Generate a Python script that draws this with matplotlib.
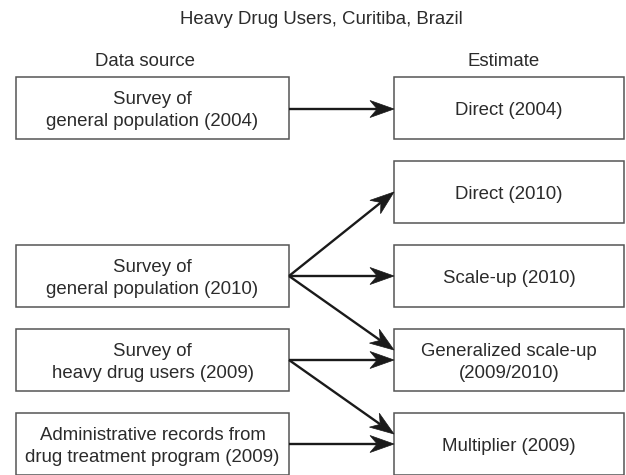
import matplotlib
matplotlib.use("Agg")
import numpy as np
import matplotlib.pyplot as plt
from matplotlib.patches import Rectangle, Polygon

title = "Heavy Drug Users, Curitiba, Brazil"
col_headers = ["Data source", "Estimate"]
sources = [
    "Survey of\ngeneral population (2004)",
    "Survey of\ngeneral population (2010)",
    "Survey of\nheavy drug users (2009)",
    "Administrative records from\ndrug treatment program (2009)",
]
estimates = [
    "Direct (2004)",
    "Direct (2010)",
    "Scale-up (2010)",
    "Generalized scale-up\n(2009/2010)",
    "Multiplier (2009)",
]
# (source index, estimate index)
links = [(0, 0), (1, 1), (1, 2), (1, 3), (2, 3), (2, 4), (3, 4)]

# ---- layout (pixel units, y downward) ----
W, H = 626, 475
src_x = (16, 289)
est_x = (394, 624)
src_y = [77, 245, 329, 413]
est_y = [77, 161, 245, 329, 413]
box_h = 62
link_start_y = [109, 276, 276, 276, 360, 360, 444]
link_end_y = [109, 192, 276, 350, 360, 434, 444]

FS = 13.4
TXT = "#2b2b2b"
plt.rcParams['font.family'] = ['Liberation Sans', 'DejaVu Sans']

fig = plt.figure(figsize=(W / 100, H / 100), dpi=100)
ax = fig.add_axes([0, 0, 1, 1])
ax.set_xlim(0, W)
ax.set_ylim(H, 0)
ax.axis("off")

ax.text(W / 2 + 8, 19, title, ha="center", va="center", fontsize=FS, color=TXT)
ax.text(145, 62, col_headers[0], ha="center", va="center", fontsize=FS, color=TXT)
ax.text(503.5, 61, col_headers[1], ha="center", va="center", fontsize=FS, color=TXT)

def box(x0, x1, y0, label):
    ax.add_patch(Rectangle((x0, y0), x1 - x0, box_h, fill=False,
                           edgecolor="#555555", linewidth=1.1))
    ax.text((x0 + x1) / 2, y0 + box_h / 2 + 2.5, label, ha="center", va="center",
            fontsize=FS, color=TXT, linespacing=1.38, multialignment="center")

for y, s in zip(src_y, sources):
    box(src_x[0], src_x[1], y, s)
for y, e in zip(est_y, estimates):
    box(est_x[0], est_x[1], y, e)

HL, HW, NOTCH = 24.0, 8.5, 0.7
LC = "#1a1a1a"
for (si, ei), ys, ye in zip(links, link_start_y, link_end_y):
    p0 = np.array([src_x[1], ys], float)
    p1 = np.array([est_x[0], ye], float)
    d = (p1 - p0) / np.linalg.norm(p1 - p0)
    n = np.array([-d[1], d[0]])
    back = p1 - d * HL
    notch = p1 - d * HL * NOTCH
    ax.plot([p0[0], notch[0]], [p0[1], notch[1]], color=LC, lw=1.7,
            solid_capstyle="butt")
    ax.add_patch(Polygon([p1, back + n * HW, notch, back - n * HW],
                         closed=True, facecolor=LC, edgecolor=LC, lw=0.5))

fig.savefig("out.png", dpi=100)
